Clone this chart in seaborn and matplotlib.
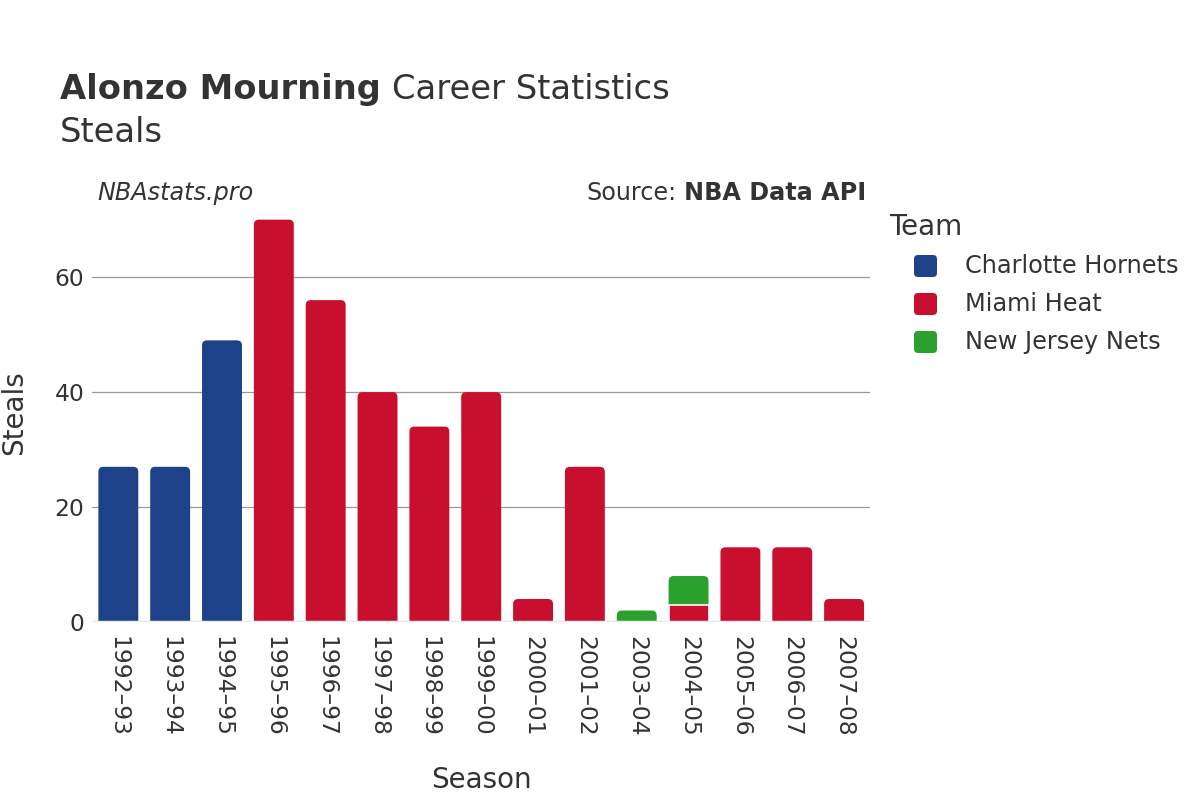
import matplotlib
matplotlib.use("Agg")
import matplotlib.pyplot as plt
from matplotlib.patches import FancyBboxPatch
import seaborn as sns
import pandas as pd
import numpy as np

seasons = ["1992–93", "1993–94", "1994–95", "1995–96", "1996–97", "1997–98", "1998–99",
           "1999–00", "2000–01", "2001–02", "2003–04", "2004–05", "2005–06", "2006–07", "2007–08"]
teams = ["Charlotte Hornets", "Miami Heat", "New Jersey Nets"]
colors = {"Charlotte Hornets": "#1d428a", "Miami Heat": "#c8102e", "New Jersey Nets": "#2ca02c"}

hornets = [27, 27, 49, 0, 0, 0, 0, 0, 0, 0, 0, 0, 0, 0, 0]
heat = [0, 0, 0, 70, 56, 40, 34, 40, 4, 27, 0, 3, 13, 13, 4]
nets = [0, 0, 0, 0, 0, 0, 0, 0, 0, 0, 2, 5, 0, 0, 0]

rows = []
for i, s in enumerate(seasons):
    bottom = 0
    for t, vals in zip(teams, [hornets, heat, nets]):
        v = vals[i]
        if v > 0:
            rows.append({"season": s, "team": t, "steals": v, "bottom": bottom, "top": bottom + v})
            bottom += v
df = pd.DataFrame(rows)
totals = df.groupby("season")["top"].max()

sns.set_theme(style="white")
plt.rcParams["font.family"] = ["DejaVu Sans"]
txt = "#333333"
TICK = 16.8

fig = plt.figure(figsize=(12, 8), dpi=100)
ax = fig.add_axes([0.077, 0.2225, 0.648, 0.5245])

sns.barplot(data=df, x="season", y="top", hue="team", order=seasons, hue_order=teams,
            palette=colors, dodge=False, width=0.77, ax=ax, legend=False,
            saturation=1, linewidth=0, errorbar=None)

ax.set_ylim(0, 73)
ax.set_xlim(-0.5, len(seasons) - 0.5)

fig.canvas.draw()
bb = ax.get_window_extent()
px_x = bb.width / (len(seasons))
px_y = bb.height / 73.0
r_px = 5.0
aspect = px_x / px_y

patches = list(ax.patches)
for p in patches:
    h = p.get_height()
    if h <= 0:
        p.remove()
        continue
    x = p.get_x(); w = p.get_width()
    fc = p.get_facecolor()
    idx = int(round(x + w / 2))
    season = seasons[idx]
    seg = df[(df.season == season) & (np.isclose(df.top, h))].iloc[0]
    bottom = seg["bottom"]
    p.remove()
    is_top = np.isclose(h, totals[season])
    z = 3 - h / 100.0
    if is_top:
        rx = r_px / px_x
        rp = FancyBboxPatch((x, bottom - 2), w, h - bottom + 2,
                            boxstyle=f"round,pad=0,rounding_size={rx}",
                            mutation_aspect=aspect, facecolor=fc, edgecolor="none",
                            zorder=z, clip_on=True)
        ax.add_patch(rp)
        rp.set_clip_path(ax.patch)
    else:
        rect = plt.Rectangle((x, bottom), w, h - bottom, facecolor=fc, edgecolor="white",
                             linewidth=1.2, zorder=z + 0.5)
        ax.add_patch(rect)

for sp in ax.spines.values():
    sp.set_visible(False)
ax.axhline(0, color="#e8e8e8", linewidth=2.5, zorder=5)
ax.set_yticks([0, 20, 40, 60])
ax.yaxis.grid(True, color="#999999", linewidth=0.9)
ax.set_axisbelow(True)
ax.tick_params(axis="y", labelsize=TICK, colors=txt, length=0, pad=6)
ax.tick_params(axis="x", labelsize=TICK, colors=txt, length=0, pad=10)
ax.set_xticks(range(len(seasons)))
ax.set_xticklabels(seasons, rotation=-90)
ax.set_xlabel("Season", fontsize=20, color=txt, labelpad=21)
ax.set_ylabel("Steals", fontsize=20, color=txt, labelpad=19)
for lbl in ax.get_yticklabels() + ax.get_xticklabels():
    lbl.set_color(txt)

# Title
TS = 24.3
t1 = fig.text(0.05, 0.876, "Alonzo Mourning", fontsize=TS, fontweight="bold", color=txt, va="baseline")
fig.canvas.draw()
w1 = t1.get_window_extent().width / fig.bbox.width
fig.text(0.05 + w1 + 0.009, 0.876, "Career Statistics", fontsize=TS, color=txt, va="baseline")
fig.text(0.05, 0.822, "Steals", fontsize=TS, color=txt, va="baseline")

SS = 17.2
fig.text(0.081, 0.75, "NBAstats.pro", fontsize=SS, style="italic", color=txt, va="baseline")
s1 = fig.text(0.722, 0.75, "NBA Data API", fontsize=SS, fontweight="bold", color=txt,
              va="baseline", ha="right")
fig.canvas.draw()
ws = s1.get_window_extent().width / fig.bbox.width
fig.text(0.722 - ws - 0.006, 0.75, "Source:", fontsize=SS, color=txt, va="baseline", ha="right")

# Legend (drawn in figure pixel coordinates)
W, H = 1200.0, 800.0
fig.text(889 / W, 1 - 227 / H, "Team", fontsize=20, color=txt, va="center", ha="left")
for i, t in enumerate(teams):
    cy = 266 + 38 * i
    box = FancyBboxPatch((914 / W, 1 - (cy + 11) / H), 23 / W, 22 / H,
                         boxstyle=f"round,pad=0,rounding_size={4 / W}",
                         mutation_aspect=W / H, transform=fig.transFigure,
                         facecolor=colors[t], edgecolor="none")
    fig.add_artist(box)
    fig.text(965 / W, 1 - cy / H, t, fontsize=17.3, color=txt, va="center", ha="left")

fig.savefig("out.png", dpi=100)
